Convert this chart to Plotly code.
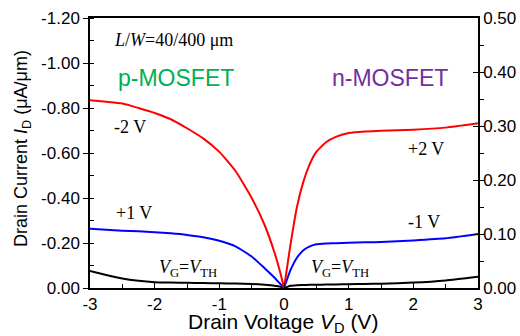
import plotly.graph_objects as go

# ---- data ----
# p-MOSFET (left axis, negative current)
xp = [-3, -2.75, -2.5, -2.25, -2, -1.75, -1.5, -1.25, -1.0, -0.75, -0.5, -0.3, -0.15, -0.05, 0]
p_m2 = [-0.835, -0.828, -0.82, -0.80, -0.778, -0.75, -0.71, -0.665, -0.605, -0.52, -0.40, -0.28, -0.16, -0.06, 0]
p_p1 = [-0.263, -0.259, -0.255, -0.252, -0.248, -0.243, -0.236, -0.226, -0.21, -0.185, -0.14, -0.088, -0.047, -0.016, 0]
p_th = [-0.076, -0.058, -0.042, -0.032, -0.026, -0.024, -0.023, -0.022, -0.021, -0.02, -0.018, -0.014, -0.01, -0.005, 0]

# n-MOSFET (right axis)
xn = [0, 0.05, 0.1, 0.2, 0.3, 0.4, 0.5, 0.65, 0.8, 1.0, 1.25, 1.5, 2.0, 2.5, 3.0]
n_p2 = [0, 0.04, 0.08, 0.15, 0.197, 0.23, 0.252, 0.27, 0.28, 0.287, 0.29, 0.291, 0.293, 0.297, 0.305]
n_m1 = [0, 0.017, 0.033, 0.056, 0.07, 0.077, 0.081, 0.0825, 0.083, 0.084, 0.0845, 0.085, 0.088, 0.092, 0.10]
n_th = [0, 0.002, 0.004, 0.005, 0.0055, 0.006, 0.006, 0.0063, 0.0066, 0.007, 0.0075, 0.008, 0.010, 0.014, 0.021]

x_ticks = [-3, -2, -1, 0, 1, 2, 3]
x_labels = ["-3", "-2", "-1", "0", "1", "2", "3"]
yl_ticks = [0, -0.2, -0.4, -0.6, -0.8, -1.0, -1.2]
yl_labels = ["0.00", "-0.20", "-0.40", "-0.60", "-0.80", "-1.00", "-1.20"]
yr_ticks = [0, 0.1, 0.2, 0.3, 0.4, 0.5]
yr_labels = ["0.00", "0.10", "0.20", "0.30", "0.40", "0.50"]

fig = go.Figure()
line_style = dict(width=2, shape="spline", smoothing=0.5)
for ys, c in [(p_th, "black"), (p_p1, "#0000FF"), (p_m2, "#FF0000")]:
    fig.add_trace(go.Scatter(x=xp, y=ys, mode="lines", line=dict(color=c, **line_style),
                             yaxis="y", showlegend=False))
for ys, c in [(n_th, "black"), (n_m1, "#0000FF"), (n_p2, "#FF0000")]:
    fig.add_trace(go.Scatter(x=xn, y=ys, mode="lines", line=dict(color=c, **line_style),
                             yaxis="y2", showlegend=False))

sans = "Liberation Sans, Arial"
serif = "Liberation Serif, Times New Roman"
tfont = dict(family=sans, size=17, color="black")

fig.update_layout(
    width=520, height=336,
    margin=dict(l=90, r=42, t=18, b=48, autoexpand=False),
    paper_bgcolor="white", plot_bgcolor="white",
    xaxis=dict(range=[-3, 3], tickvals=x_ticks, ticktext=x_labels, ticks="inside", ticklen=5,
               tickwidth=1, tickcolor="black", showline=True, linecolor="black", linewidth=1.5,
               mirror=True, showgrid=False, zeroline=False, tickfont=tfont, automargin=False,
               minor=dict(dtick=0.5, tick0=0, ticks="inside", ticklen=4, tickcolor="black", showgrid=False)),
    yaxis=dict(range=[0, -1.2], tickvals=yl_ticks, ticktext=yl_labels, ticks="outside", ticklen=5,
               tickcolor="black", showline=True, linecolor="black", linewidth=1.5,
               showgrid=False, zeroline=False, tickfont=tfont, automargin=False,
               minor=dict(dtick=0.1, tick0=0, ticks="inside", ticklen=4, tickcolor="black", showgrid=False)),
    yaxis2=dict(range=[0, 0.5], tickvals=yr_ticks, ticktext=yr_labels, overlaying="y", side="right",
                ticks="inside", ticklen=5, tickcolor="black", showline=True, linecolor="black",
                linewidth=1.5, showgrid=False, zeroline=False, tickfont=tfont, automargin=False,
                minor=dict(dtick=0.05, tick0=0, ticks="outside", ticklen=4, tickcolor="black", showgrid=False)),
)

def px(xp_, yp_):
    return (xp_ - 90) / 388, (288 - yp_) / 270

def ann(text, cx, cy, size, color="black", family=serif, angle=0):
    x, y = px(cx, cy)
    fig.add_annotation(x=x, y=y, xref="paper", yref="paper", text=text, showarrow=False,
                       xanchor="center", yanchor="middle", textangle=angle,
                       font=dict(family=family, size=size, color=color))

ann("Drain Voltage <i>V</i><sub>D</sub> (V)", 283, 323, 21, family=sans)
ann("Drain Current <i>I</i><sub>D</sub> (μA/μm)", 22, 149, 18, family=sans, angle=-90)
ann("<i>L</i>/<i>W</i>=40/400 μm", 173, 40, 18)
ann("p-MOSFET", 176, 78, 23, "#00B050", sans)
ann("n-MOSFET", 390, 78, 23, "#7030A0", sans)
ann("-2 V", 130, 127, 18)
ann("+2 V", 426, 149, 18)
ann("+1 V", 134, 213, 18)
ann("-1 V", 424, 222, 18)
ann("<i>V</i><sub>G</sub>=<i>V</i><sub>TH</sub>", 188, 268, 18)
ann("<i>V</i><sub>G</sub>=<i>V</i><sub>TH</sub>", 340, 268, 18)

fig.write_html("out.html")
